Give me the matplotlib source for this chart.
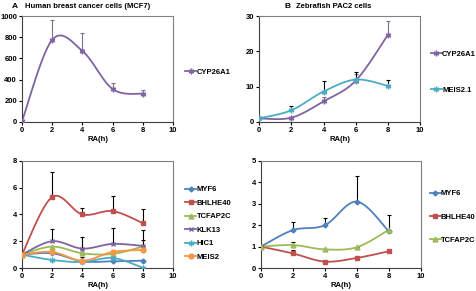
import numpy as np
import matplotlib
matplotlib.use("Agg")
import matplotlib.pyplot as plt

plt.rcParams["font.family"] = ["Liberation Sans", "DejaVu Sans"]
plt.rcParams["font.weight"] = "bold"
plt.rcParams["font.size"] = 5.5

horas = [0, 2, 4, 6, 8]

# A - MCF7, painel de cima
a_cyp26a1 = [5, 775, 670, 310, 265]
a_cyp26a1_err = [0, 185, 170, 55, 40]

# B - PAC2, painel de cima
b_cyp26a1 = [1.0, 1.2, 5.8, 11.7, 24.7]
b_cyp26a1_err = [0, 0, 1.2, 2.0, 4.0]
b_meis21 = [1.0, 3.3, 8.6, 12.0, 10.2]
b_meis21_err = [0, 1.2, 2.9, 2.0, 1.8]

# A - painel de baixo
a_myf6 = [1.0, 1.1, 0.5, 0.5, 0.55]
a_bhlhe40 = [1.0, 5.3, 4.0, 4.25, 3.35]
a_bhlhe40_err = [0, 1.9, 0.45, 1.1, 1.05]
a_tcfap2c = [1.0, 1.6, 1.1, 1.05, 1.6]
a_klk13 = [1.0, 2.0, 1.45, 1.8, 1.65]
a_klk13_err = [0, 0.9, 0.9, 1.2, 1.2]
a_hic1 = [1.0, 0.6, 0.45, 0.75, 0.02]
a_meis2 = [1.0, 1.2, 0.55, 1.2, 1.35]
a_meis2_err = [0, 0, 0.25, 0, 0.75]

# B - painel de baixo
b_myf6 = [1.0, 1.77, 2.0, 3.1, 1.72]
b_myf6_err = [0, 0.4, 0.32, 1.2, 0.75]
b_bhlhe40 = [1.0, 0.68, 0.3, 0.47, 0.78]
b_bhlhe40_err = [0, 0.17, 0, 0, 0]
b_tcfap2c = [1.0, 1.07, 0.87, 0.97, 1.78]
b_tcfap2c_err = [0, 0.13, 0, 0, 0]

AZUL = "#4F81BD"
VERMELHO = "#C0504D"
VERDE = "#9BBB59"
ROXO = "#8064A2"
AQUA = "#4BACC6"
LARANJA = "#F79646"


def suavizar(x, y, n=30):
    # curva tipo Catmull-Rom, parecida com a linha suavizada do Excel
    x = np.asarray(x, float)
    y = np.asarray(y, float)
    px = np.concatenate([[x[0]], x, [x[-1]]])
    py = np.concatenate([[y[0]], y, [y[-1]]])
    xs, ys = [], []
    t = np.linspace(0, 1, n)
    for i in range(1, len(px) - 2):
        p0x, p1x, p2x, p3x = px[i - 1], px[i], px[i + 1], px[i + 2]
        p0y, p1y, p2y, p3y = py[i - 1], py[i], py[i + 1], py[i + 2]
        c1x = p1x + (p2x - p0x) / 6
        c1y = p1y + (p2y - p0y) / 6
        c2x = p2x - (p3x - p1x) / 6
        c2y = p2y - (p3y - p1y) / 6
        bx = (1 - t) ** 3 * p1x + 3 * (1 - t) ** 2 * t * c1x + 3 * (1 - t) * t ** 2 * c2x + t ** 3 * p2x
        by = (1 - t) ** 3 * p1y + 3 * (1 - t) ** 2 * t * c1y + 3 * (1 - t) * t ** 2 * c2y + t ** 3 * p2y
        xs.extend(bx)
        ys.extend(by)
    return xs, ys


def serie(ax, y, cor, marcador, nome, err=None, cor_err="black", ms=3.5):
    if err is not None:
        ax.errorbar(horas, y, yerr=[np.zeros(len(err)), err], fmt="none",
                    ecolor=cor_err, elinewidth=0.8, capsize=1.5, capthick=0.8, zorder=1)
    xs, ys = suavizar(horas, y)
    ax.plot(xs, ys, color=cor, lw=1.3, zorder=2)
    ax.plot(horas, y, linestyle="none", marker=marcador, color=cor, ms=ms,
            mew=1.0, zorder=3)
    ax.plot([], [], color=cor, lw=1.3, marker=marcador, ms=ms, mew=1.0, label=nome)


def estilo(ax, ymax, passo):
    ax.set_xlim(0, 10)
    ax.set_ylim(0, ymax)
    ax.set_xticks(range(0, 11, 2))
    ax.set_yticks(np.arange(0, ymax + passo / 2, passo))
    ax.set_xlabel("RA(h)", fontsize=5.5, fontweight="bold", labelpad=1.5)
    for lado in ["top", "right"]:
        ax.spines[lado].set_color("#808080")
    for lado in ["left", "bottom"]:
        ax.spines[lado].set_color("#404040")
    for s in ax.spines.values():
        s.set_linewidth(0.8)
    ax.tick_params(direction="out", length=2, width=0.8, pad=1.5, labelsize=5.5)
    for lbl in ax.get_xticklabels() + ax.get_yticklabels():
        lbl.set_fontweight("bold")


def legenda(ax, espaco, y_centro=0.5, x0=1.05):
    ax.legend(loc="center left", bbox_to_anchor=(x0, y_centro), frameon=False,
              fontsize=5.5, handlelength=1.45, handletextpad=0.05,
              labelspacing=espaco, borderaxespad=0, borderpad=0)


fig = plt.figure(figsize=(4.77, 2.91), dpi=100)

ax1 = fig.add_axes([0.046, 0.581, 0.317, 0.364])
serie(ax1, a_cyp26a1, ROXO, (6, 2, 0), "CYP26A1", a_cyp26a1_err, cor_err="#7a6f8f", ms=4)
estilo(ax1, 1000, 200)
legenda(ax1, 0.5, 0.47, 1.08)

ax2 = fig.add_axes([0.543, 0.581, 0.338, 0.364])
serie(ax2, b_cyp26a1, ROXO, (6, 2, 0), "CYP26A1", b_cyp26a1_err, cor_err="#7a6f8f", ms=4)
serie(ax2, b_meis21, AQUA, (6, 2, 0), "MEIS2.1", b_meis21_err, ms=4)
estilo(ax2, 30, 10)
legenda(ax2, 3.7, 0.47, 1.065)

ax3 = fig.add_axes([0.046, 0.079, 0.317, 0.368])
serie(ax3, a_myf6, AZUL, "D", "MYF6", ms=2.5)
serie(ax3, a_bhlhe40, VERMELHO, "s", "BHLHE40", a_bhlhe40_err)
serie(ax3, a_tcfap2c, VERDE, "^", "TCFAP2C")
serie(ax3, a_klk13, ROXO, "x", "KLK13", a_klk13_err)
serie(ax3, a_hic1, AQUA, (6, 2, 0), "HIC1", ms=4)
serie(ax3, a_meis2, LARANJA, "o", "MEIS2", a_meis2_err)
estilo(ax3, 8, 2)
legenda(ax3, 0.8, 0.416, 1.08)

ax4 = fig.add_axes([0.547, 0.079, 0.335, 0.368])
serie(ax4, b_myf6, AZUL, "D", "MYF6", b_myf6_err, ms=2.5)
serie(ax4, b_bhlhe40, VERMELHO, "s", "BHLHE40", b_bhlhe40_err)
serie(ax4, b_tcfap2c, VERDE, "^", "TCFAP2C", b_tcfap2c_err)
estilo(ax4, 5, 1)
legenda(ax4, 2.1, 0.477, 1.055)

fig.text(0.025, 0.99, "A", fontsize=6, fontweight="bold", va="top")
fig.text(0.052, 0.99, "Human breast cancer cells (MCF7)", fontsize=5.5, fontweight="bold", va="top")
fig.text(0.596, 0.99, "B", fontsize=6, fontweight="bold", va="top")
fig.text(0.621, 0.99, "Zebrafish PAC2 cells", fontsize=5.5, fontweight="bold", va="top")

fig.savefig("out.png", dpi=100)
plt.close(fig)
